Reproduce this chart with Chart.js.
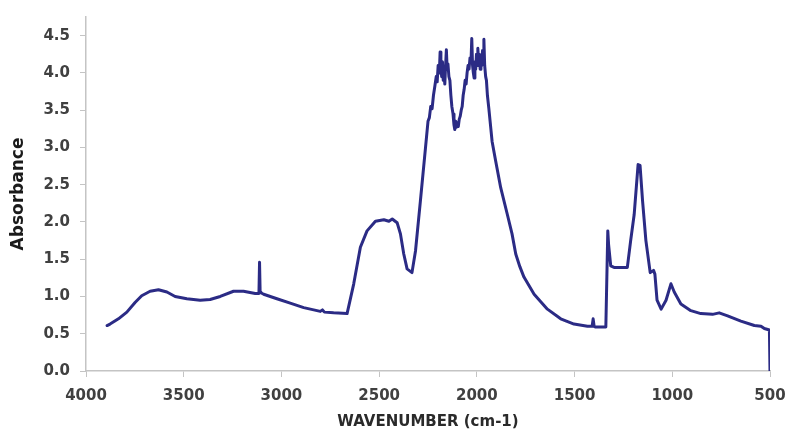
<!DOCTYPE html>
<html>
<head>
<meta charset="utf-8">
<script src="https://cdn.jsdelivr.net/npm/chart.js@4/dist/chart.umd.min.js"></script>
<style>
  html, body { margin: 0; padding: 0; background: #ffffff; }
  #wrap { width: 787px; height: 432px; position: relative; }
</style>
</head>
<body>
<div id="wrap"><canvas id="c" width="787" height="432"></canvas></div>
<script>
// Wavenumber (cm-1)
const wavenumbers = [
  3892, 3877, 3834, 3791, 3749, 3715, 3672, 3629, 3586, 3544, 3484, 3416, 3365, 3313, 3245, 3194,
  3134, 3115, 3112, 3109, 3105, 3091, 3023, 2955, 2886, 2801, 2790, 2780, 2733, 2664,
  2630, 2596, 2562, 2519, 2476, 2450, 2433, 2408, 2391, 2374, 2357, 2332, 2314, 2289,
  2263, 2250, 2243, 2236, 2229, 2222, 2215, 2208, 2203, 2198, 2192, 2188, 2184, 2180, 2176,
  2172, 2168, 2164, 2160, 2156, 2152, 2148, 2143, 2138, 2133, 2128, 2122, 2117, 2113, 2108,
  2104, 2100, 2095, 2090, 2085, 2080, 2075, 2070, 2065, 2060, 2055, 2050, 2045, 2040, 2035,
  2030, 2026, 2022, 2018, 2014, 2010, 2006, 2002, 1998, 1995, 1991, 1987, 1983, 1979, 1975,
  1971, 1967, 1964, 1960, 1955, 1951, 1946, 1939, 1922, 1904, 1878, 1844, 1820, 1801, 1780, 1759, 1707,
  1639, 1571, 1503, 1434, 1410, 1405, 1400, 1392, 1349, 1340, 1330, 1326, 1315, 1298, 1230,
  1213, 1195, 1175, 1165, 1152, 1135, 1113, 1096, 1089, 1078, 1057, 1032, 1007, 990, 956,
  905, 854, 794, 760, 717, 649, 580, 546, 529, 503, 500.5, 500
];
// Absorbance
const absorbance = [
  0.61, 0.63, 0.70, 0.79, 0.92, 1.01, 1.07, 1.09, 1.06, 1.00, 0.97, 0.95, 0.96, 1.00, 1.07, 1.07,
  1.04, 1.04, 1.46, 1.06, 1.05, 1.03, 0.97, 0.91, 0.85, 0.80, 0.82, 0.79, 0.78, 0.77,
  1.17, 1.66, 1.88, 2.01, 2.03, 2.01, 2.04, 1.99, 1.84, 1.57, 1.37, 1.32, 1.61, 2.28,
  2.99, 3.35, 3.40, 3.55, 3.52, 3.70, 3.82, 3.95, 3.88, 4.10, 4.00, 4.28, 4.05, 3.95, 4.15,
  3.90, 4.00, 3.85, 4.10, 4.31, 4.05, 4.12, 3.95, 3.90, 3.70, 3.55, 3.45, 3.30, 3.24, 3.35,
  3.27, 3.33, 3.28, 3.38, 3.42, 3.50, 3.55, 3.70, 3.78, 3.90, 3.85, 4.00, 4.10, 4.05, 4.20,
  4.15, 4.46, 4.10, 4.00, 3.93, 4.15, 4.05, 4.25, 4.10, 4.33, 4.15, 4.25, 4.05, 4.20, 4.10,
  4.30, 4.20, 4.45, 4.10, 3.95, 3.90, 3.70, 3.53, 3.08, 2.82, 2.46, 2.10, 1.84, 1.57, 1.40, 1.26, 1.03,
  0.83, 0.70, 0.63, 0.60, 0.60, 0.70, 0.60, 0.59, 0.59, 0.59, 1.88, 1.70, 1.41, 1.39, 1.39,
  1.75, 2.10, 2.77, 2.76, 2.28, 1.75, 1.32, 1.35, 1.30, 0.95, 0.83, 0.95, 1.17, 1.06, 0.90,
  0.81, 0.77, 0.76, 0.78, 0.74, 0.67, 0.61, 0.60, 0.57, 0.55, 0.55, 0.0
];
const xTicks = [4000, 3500, 3000, 2500, 2000, 1500, 1000, 500];
const yTicks = [0, 0.5, 1, 1.5, 2, 2.5, 3, 3.5, 4, 4.5];

const points = wavenumbers.map((w, i) => ({ x: w, y: absorbance[i] }));
const axisGray = '#c4c4c4';
const textGray = '#404040';

new Chart(document.getElementById('c'), {
  type: 'line',
  data: {
    datasets: [{
      data: points,
      borderColor: '#2b2b85',
      borderWidth: 3,
      pointRadius: 0,
      tension: 0,
      fill: false,
      borderJoinStyle: 'round',
      borderCapStyle: 'round'
    }]
  },
  options: {
    responsive: false,
    animation: false,
    layout: { padding: { top: 17, right: 17, bottom: 0, left: 0 } },
    plugins: { legend: { display: false }, tooltip: { enabled: false } },
    scales: {
      x: {
        type: 'linear',
        reverse: true,
        min: 500,
        max: 4000,
        afterBuildTicks: (axis) => { axis.ticks = xTicks.map(v => ({ value: v })); },
        afterFit: (axis) => { axis.height = 61; axis.paddingLeft = 0; axis.paddingRight = 0; },
        grid: { drawOnChartArea: false, drawTicks: true, tickLength: 6, color: axisGray },
        border: { display: true, color: axisGray, width: 1.5 },
        ticks: {
          color: textGray, padding: 10,
          font: { family: 'DejaVu Sans', size: 15, weight: 'bold' },
          maxRotation: 0, autoSkip: false,
          callback: (v) => String(v)
        },
        title: {
          display: true, text: 'WAVENUMBER (cm-1)', color: '#2a2a2a',
          font: { family: 'DejaVu Sans', size: 15, weight: 'bold' },
          padding: { top: 0, bottom: 1 }
        }
      },
      y: {
        type: 'linear',
        min: 0,
        max: 4.75,
        afterBuildTicks: (axis) => { axis.ticks = yTicks.map(v => ({ value: v })); },
        afterFit: (axis) => { axis.width = 86; axis.paddingTop = 0; axis.paddingBottom = 0; },
        grid: { drawOnChartArea: false, drawTicks: true, tickLength: 6, color: axisGray },
        border: { display: true, color: axisGray, width: 1.5 },
        ticks: {
          color: textGray, padding: 10,
          font: { family: 'DejaVu Sans', size: 15, weight: 'bold' },
          callback: (v) => Number(v).toFixed(1)
        },
        title: {
          display: true, text: 'Absorbance', color: '#1a1a1a',
          font: { family: 'DejaVu Sans', size: 17, weight: 'bold' },
          padding: { top: 8, bottom: 0 }
        }
      }
    }
  }
});
</script>
</body>
</html>
